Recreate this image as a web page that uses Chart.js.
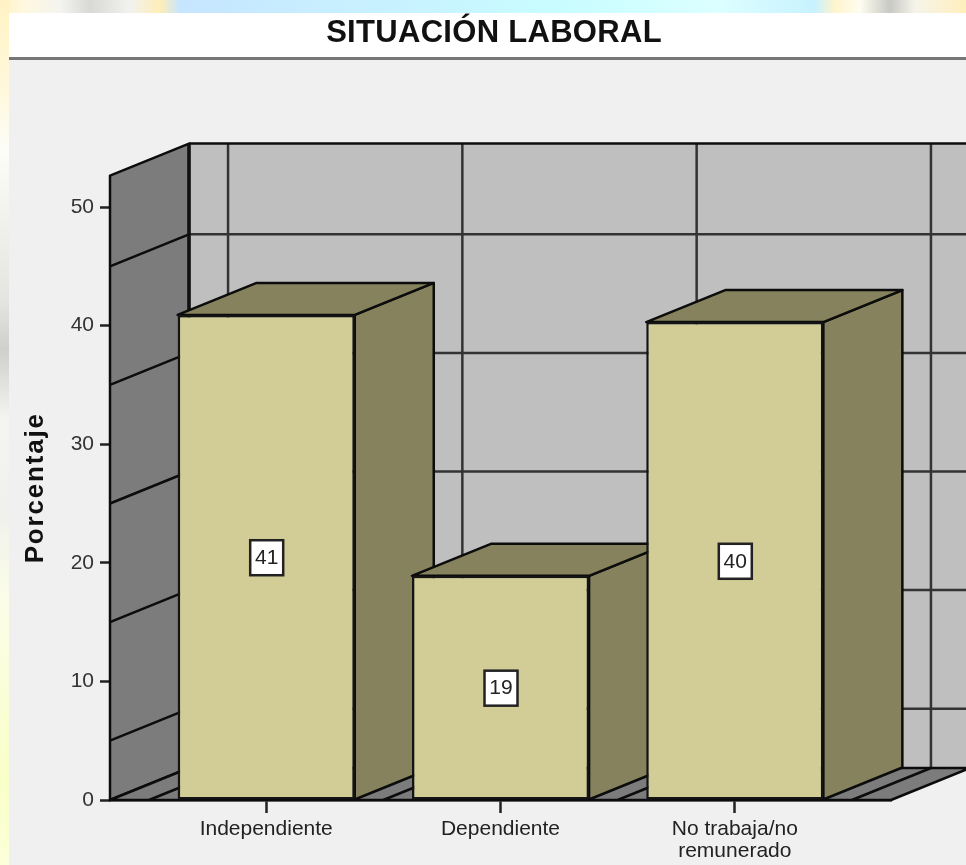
<!DOCTYPE html>
<html>
<head>
<meta charset="utf-8">
<title>Situación laboral</title>
<script src="https://cdn.jsdelivr.net/npm/chart.js@4"></script>
<style>
    html, body { margin: 0; padding: 0; background: #fff; overflow: hidden; }
    #page { position: relative; width: 966px; height: 865px; overflow: hidden; }
    #topStrip { position: absolute; left: 0; top: 0; width: 966px; height: 13px;
        background: linear-gradient(to right, #fff2c4 0, #fff8e0 25px, #f4f4f0 60px, #d8d8d4 90px, #f2f2ee 130px, #ffeeb8 160px, #c6e6ff 180px, #c8f2ff 400px, #c8fdff 560px, #dcffff 720px, #c8f2ff 815px, #fff4cc 835px, #fffdf0 860px, #c8c8c4 890px, #f6f4ea 915px, #ffefbc 966px); }
    #leftStrip { position: absolute; left: 0; top: 0; width: 9px; height: 865px;
        background: linear-gradient(to bottom, #fff2c4 0, #fff8dc 90px, #fdfdf8 150px, #e4e4e0 300px, #cfcfcc 350px, #f4f4f0 420px, #f0f0ec 510px, #fbfde8 600px, #f9ffc8 780px, #fdffe0 900px); }
    canvas { position: absolute; left: 0; top: 0; filter: blur(0.6px); }
</style>
</head>
<body>
<div id="page">
    <div id="topStrip"></div>
    <div id="leftStrip"></div>
    <canvas id="laboralChart" width="966" height="865"></canvas>
</div>
<script>
const categories = ['Independiente', 'Dependiente', ['No trabaja/no', 'remunerado']];
const porcentajes = [40.9, 18.9, 40.3];
const etiquetas = ['41', '19', '40'];
const yTicks = [0, 10, 20, 30, 40, 50];
const wallGridValues = [5, 15, 25, 35, 45];
const wallGridSlots = [-0.5, 0.5, 1.5, 2.5];

// depth of the fake 3D box, in pixels
const DX = 79;
const DY = 32;

function poly(ctx, pts, fill, stroke, lw) {
    ctx.beginPath();
    pts.forEach((p, i) => i ? ctx.lineTo(p[0], p[1]) : ctx.moveTo(p[0], p[1]));
    ctx.closePath();
    if (fill) { ctx.fillStyle = fill; ctx.fill(); }
    if (stroke) { ctx.strokeStyle = stroke; ctx.lineWidth = lw || 2; ctx.stroke(); }
}

function line(ctx, x1, y1, x2, y2, color, lw) {
    ctx.beginPath();
    ctx.moveTo(x1, y1);
    ctx.lineTo(x2, y2);
    ctx.strokeStyle = color;
    ctx.lineWidth = lw;
    ctx.stroke();
}

// the original text is spaced wider than the installed fonts
function withSpacing(ctx, obj, method, px) {
    const orig = obj[method];
    obj[method] = function (...args) {
        ctx.letterSpacing = px;
        orig.apply(this, args);
        ctx.letterSpacing = '0px';
    };
}

const box3d = {
    id: 'box3d',
    afterLayout(chart) {
        // the title sits right of the canvas centre
        chart.titleBlock.left += 48.5;
        chart.titleBlock.right += 48.5;
        if (!chart.$spaced) {
            chart.$spaced = true;
            withSpacing(chart.ctx, chart.titleBlock, 'draw', '0.3px');
            withSpacing(chart.ctx, chart.scales.y, 'drawTitle', '1.8px');
        }
    },
    beforeDraw(chart) {
        const ctx = chart.ctx;
        ctx.save();
        ctx.fillStyle = '#ffffff';
        ctx.fillRect(9, 13, 957, 45);
        ctx.fillStyle = '#f0f0f0';
        ctx.fillRect(9, 58, 957, 807);
        ctx.fillStyle = '#777777';
        ctx.fillRect(9, 57, 957, 3);
        ctx.restore();
    },
    beforeDatasetsDraw(chart) {
        const ctx = chart.ctx;
        const { left, right, top, bottom } = chart.chartArea;
        const xs = chart.scales.x;
        const ys = chart.scales.y;
        ctx.save();
        ctx.lineJoin = 'round';

        // back wall, side wall, floor
        poly(ctx, [[left + DX, top - DY], [right + DX, top - DY], [right + DX, bottom - DY], [left + DX, bottom - DY]], '#bfbfbf');
        wallGridValues.forEach(v => {
            const y = ys.getPixelForValue(v);
            line(ctx, left + DX, y - DY, right + DX, y - DY, '#333333', 2.5);
        });
        wallGridSlots.forEach(s => {
            const x = xs.getPixelForValue(s);
            line(ctx, x + DX, top - DY, x + DX, bottom - DY, '#333333', 2.5);
        });
        poly(ctx, [[left, top], [left + DX, top - DY], [left + DX, bottom - DY], [left, bottom]], '#7c7c7c', '#0c0c0c', 2.5);
        wallGridValues.forEach(v => {
            const y = ys.getPixelForValue(v);
            line(ctx, left, y, left + DX, y - DY, '#0c0c0c', 2.5);
        });
        line(ctx, left + DX, top - DY, right + DX, top - DY, '#0c0c0c', 2.5);
        line(ctx, left + DX, top - DY, left + DX, bottom - DY, '#111111', 3.5);

        poly(ctx, [[left, bottom], [right, bottom], [right + DX, bottom - DY], [left + DX, bottom - DY]], '#7c7c7c', '#0c0c0c', 2.5);
        wallGridSlots.forEach(s => {
            const x = xs.getPixelForValue(s);
            line(ctx, x, bottom, x + DX, bottom - DY, '#0c0c0c', 2.5);
        });

        // sides and tops of the bars; the fronts come from Chart.js itself
        chart.getDatasetMeta(0).data.forEach(bar => {
            const x0 = bar.x - bar.width / 2;
            const x1 = bar.x + bar.width / 2;
            poly(ctx, [[x1, bar.y], [x1 + DX, bar.y - DY], [x1 + DX, bar.base - DY], [x1, bar.base]], '#85825d', '#0c0c0c', 2.5);
            poly(ctx, [[x0, bar.y], [x0 + DX, bar.y - DY], [x1 + DX, bar.y - DY], [x1, bar.y]], '#85825d', '#0c0c0c', 2.5);
        });
        ctx.restore();
    },
    afterDatasetsDraw(chart) {
        const ctx = chart.ctx;
        ctx.save();
        ctx.font = '21px "Liberation Sans"';
        ctx.textAlign = 'center';
        ctx.textBaseline = 'middle';
        chart.getDatasetMeta(0).data.forEach((bar, i) => {
            const cy = (bar.y + bar.base) / 2;
            ctx.fillStyle = '#ffffff';
            ctx.fillRect(bar.x - 16, cy - 17, 33, 35);
            ctx.strokeStyle = '#222222';
            ctx.lineWidth = 2.5;
            ctx.strokeRect(bar.x - 16, cy - 17, 33, 35);
            ctx.fillStyle = '#222222';
            ctx.fillText(etiquetas[i], bar.x + 0.5, cy + 1);
        });
        ctx.restore();
    }
};

new Chart(document.getElementById('laboralChart').getContext('2d'), {
    type: 'bar',
    data: {
        datasets: [{
            data: porcentajes.map((v, i) => ({ x: i, y: v })),
            backgroundColor: '#d2cd96',
            borderColor: '#141414',
            borderWidth: 2.5,
            borderSkipped: false,
            categoryPercentage: 1,
            barPercentage: 0.756
        }]
    },
    options: {
        responsive: false,
        animation: false,
        layout: { padding: { left: 0, right: 75, top: 0, bottom: 0 } },
        plugins: {
            legend: { display: false },
            tooltip: { enabled: false },
            title: {
                display: true,
                text: 'SITUACIÓN LABORAL',
                color: '#111111',
                font: { family: '"Liberation Sans"', size: 31, weight: 'bold' },
                padding: { top: 15, bottom: 123.4 }
            }
        },
        scales: {
            x: {
                type: 'linear',
                min: -2 / 3,
                max: 8 / 3,
                offset: false,
                afterBuildTicks: scale => { scale.ticks = categories.map((c, i) => ({ value: i })); },
                afterFit: scale => { scale.height = 65; },
                grid: { display: true, offset: false, drawOnChartArea: false, tickLength: 13, tickWidth: 2.5, tickColor: '#222222' },
                border: { display: true, color: '#0c0c0c', width: 2.5 },
                ticks: {
                    color: '#222222',
                    autoSkip: false,
                    maxRotation: 0,
                    padding: 5,
                    font: { family: '"Liberation Sans"', size: 21, lineHeight: 1.05 },
                    callback: value => categories[value]
                }
            },
            y: {
                min: 0,
                max: 52.65,
                afterBuildTicks: scale => { scale.ticks = yTicks.map(v => ({ value: v })); },
                afterFit: scale => { scale.width = 110; },
                title: {
                    display: true,
                    text: 'Porcentaje',
                    color: '#111111',
                    font: { family: '"Liberation Sans"', size: 26, weight: 'bold' },
                    padding: { top: 20, bottom: 0 }
                },
                grid: { display: true, drawOnChartArea: false, tickLength: 10, tickWidth: 2.5, tickColor: '#222222' },
                border: { display: false },
                ticks: {
                    color: '#333333',
                    padding: 6,
                    font: { family: '"Liberation Sans"', size: 21 }
                }
            }
        }
    },
    plugins: [box3d]
});
</script>
</body>
</html>
